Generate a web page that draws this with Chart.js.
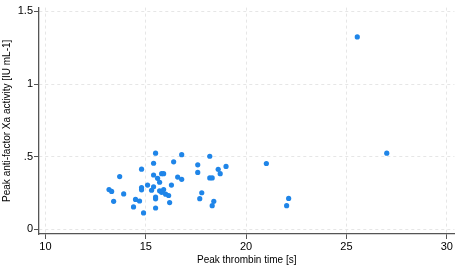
<!DOCTYPE html>
<html>
<head>
<meta charset="utf-8">
<script src="https://cdn.jsdelivr.net/npm/chart.js@4.4.0/dist/chart.umd.min.js"></script>
<style>
html,body{margin:0;padding:0;background:#fff;}
#wrap{width:457px;height:266px;}
</style>
</head>
<body>
<div id="wrap"><canvas id="c" width="457" height="266"></canvas></div>
<script>
const xTitle = "Peak thrombin time [s]";
const yTitle = "Peak anti-factor Xa activity [IU mL-1]";
const xTicks = [10, 15, 20, 25, 30];
const yTicks = [0, 0.5, 1, 1.5];
const yTickLabels = ["0", ".5", "1", "1.5"];
const thrombinTime = [
  13.17, 13.30, 13.40, 13.70, 13.90, 14.39, 14.49, 14.69, 14.79, 14.79,
  14.79, 14.89, 15.09, 15.29, 15.39, 15.39, 15.39, 15.49, 15.49, 15.49,
  15.49, 15.59, 15.69, 15.69, 15.79, 15.89, 15.79, 15.89, 15.99, 16.14,
  16.19, 16.28, 16.39, 16.59, 16.79, 16.79, 17.59, 17.59, 17.69, 17.79,
  18.19, 18.19, 18.31, 18.31, 18.39, 18.61, 18.71, 19.00, 21.01, 22.02,
  22.12, 25.54, 27.01
];
const antiXa = [
  0.274, 0.261, 0.193, 0.363, 0.244, 0.154, 0.206, 0.195, 0.414, 0.287,
  0.272, 0.113, 0.305, 0.269, 0.455, 0.374, 0.293, 0.524, 0.222, 0.210,
  0.147, 0.351, 0.324, 0.265, 0.383, 0.383, 0.255, 0.274, 0.242, 0.233,
  0.184, 0.305, 0.465, 0.360, 0.514, 0.344, 0.444, 0.392, 0.211, 0.252,
  0.503, 0.354, 0.354, 0.163, 0.193, 0.413, 0.383, 0.433, 0.453, 0.163,
  0.213, 1.324, 0.524
];

const points = thrombinTime.map((x, i) => ({x: x, y: antiXa[i]}));
const tickFont = {family: "'Liberation Sans', Arial, sans-serif", size: 11};
const titleFont = {family: "'Liberation Sans', Arial, sans-serif", size: 10};
const axisColor = '#555555';
const gridColor = '#e6e6e6';

new Chart(document.getElementById('c'), {
  type: 'scatter',
  data: {
    datasets: [{
      data: points,
      backgroundColor: '#1f85e8',
      borderWidth: 0,
      pointRadius: 2.6,
      pointHoverRadius: 2.6
    }]
  },
  options: {
    responsive: false,
    animation: false,
    events: [],
    layout: {padding: {top: 5, right: 2, left: 0, bottom: 0}},
    plugins: {legend: {display: false}, tooltip: {enabled: false}},
    scales: {
      x: {
        type: 'linear',
        min: 9.68,
        max: 30.38,
        afterBuildTicks: s => { s.ticks = xTicks.map(v => ({value: v})); },
        afterFit: s => { s.height = 32; },
        ticks: {color: '#000', font: tickFont, padding: 1, maxRotation: 0, autoSkip: false,
                callback: v => String(v)},
        grid: {color: gridColor, tickColor: axisColor, tickLength: 5, lineWidth: 1},
        border: {display: true, color: axisColor, width: 1.3, dash: [3, 3]},
        title: {display: true, text: xTitle, color: '#000', font: titleFont, padding: {top: 0, bottom: 0}}
      },
      y: {
        type: 'linear',
        min: -0.032,
        max: 1.526,
        afterBuildTicks: s => { s.ticks = yTicks.map(v => ({value: v})); },
        afterFit: s => { s.width = 39; },
        ticks: {color: '#000', font: tickFont, padding: 1, autoSkip: false,
                callback: v => { const i = yTicks.indexOf(v); return i >= 0 ? yTickLabels[i] : ''; }},
        grid: {color: gridColor, tickColor: axisColor, tickLength: 5, lineWidth: 1},
        border: {display: true, color: axisColor, width: 1.3, dash: [3, 3]},
        title: {display: true, text: yTitle, color: '#000', font: titleFont, padding: {top: 1, bottom: 0}}
      }
    }
  }
});
</script>
</body>
</html>
